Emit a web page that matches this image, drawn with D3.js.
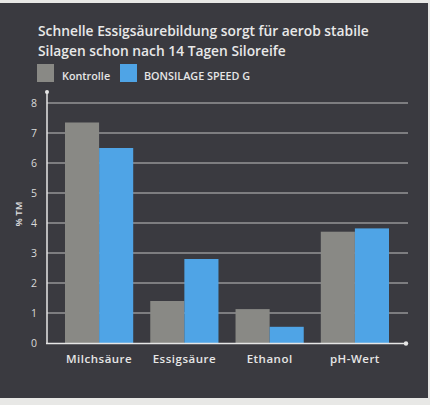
<!DOCTYPE html>
<html><head><meta charset="utf-8">
<script src="https://cdn.jsdelivr.net/npm/d3@7"></script>
<style>html,body{margin:0;padding:0;background:#e8e8e6;}svg{display:block;}</style>
</head><body>
<script>
const categories = ["Milchsäure", "Essigsäure", "Ethanol", "pH-Wert"];
const seriesNames = ["Kontrolle", "BONSILAGE SPEED G"];
const kontrolle = [7.35, 1.4, 1.13, 3.71];
const bonsilage = [6.5, 2.8, 0.54, 3.82];
const yTicks = [0, 1, 2, 3, 4, 5, 6, 7, 8];
const titleLines = ["Schnelle Essigsäurebildung sorgt für aerob stabile", "Silagen schon nach 14 Tagen Siloreife"];
const yLabel = "% TM";

const W = 430, H = 405;
const colors = ["#898985", "#4fa4e6"];
const svg = d3.select("body").append("svg").attr("width", W).attr("height", H);
svg.append("rect").attr("x", 0).attr("y", 3).attr("width", 428).attr("height", 395).attr("fill", "#3a3a40");

const font = "'Open Sans', 'DejaVu Sans', sans-serif";
const x0 = d3.scaleBand().domain(categories).range([65, 389]).paddingInner(0.2).paddingOuter(0);
const x1 = d3.scaleBand().domain(seriesNames).range([0, x0.bandwidth()]);
const y = d3.scaleLinear().domain([0, 8]).range([343, 103]);

// gridlines
svg.append("g").selectAll("line").data(yTicks.filter(t => t > 0)).join("line")
  .attr("x1", 47).attr("x2", 408).attr("y1", d => y(d)).attr("y2", d => y(d))
  .attr("stroke", "#d8d8d8").attr("stroke-width", 1.2).attr("opacity", 0.85);

// bars
const data = categories.map((c, i) => ({c, vals: [kontrolle[i], bonsilage[i]]}));
const g = svg.append("g").selectAll("g").data(data).join("g").attr("transform", d => `translate(${x0(d.c)},0)`);
g.selectAll("rect").data(d => d.vals.map((v, j) => ({v, s: seriesNames[j], j}))).join("rect")
  .attr("x", d => x1(d.s)).attr("width", x1.bandwidth())
  .attr("y", d => y(d.v)).attr("height", d => y(0) - y(d.v))
  .attr("fill", d => colors[d.j]);

// y axis
const yAxis = d3.axisLeft(y).tickValues(yTicks).tickSize(0).tickPadding(10).tickFormat(d3.format("d"));
const ya = svg.append("g").attr("transform", "translate(47,0)").call(yAxis);
ya.select(".domain").remove();
ya.selectAll("text").attr("fill", "#d9d9d9").attr("font-family", font).attr("font-size", 10.5);
svg.append("line").attr("x1", 47).attr("x2", 47).attr("y1", 92).attr("y2", 343)
  .attr("stroke", "#e6e6e6").attr("stroke-width", 1.5);
svg.append("circle").attr("cx", 47).attr("cy", 92).attr("r", 2).attr("fill", "#e6e6e6");

// x axis
const xAxis = d3.axisBottom(x0).tickSize(0).tickPadding(12);
const xa = svg.append("g").attr("transform", "translate(0,343)").call(xAxis);
xa.select(".domain").remove();
xa.selectAll("text").attr("fill", "#e6e6e6").attr("font-family", font).attr("font-size", 11.5)
  .attr("font-weight", 600).attr("letter-spacing", 0.5);
svg.append("line").attr("x1", 46).attr("x2", 406).attr("y1", 343.5).attr("y2", 343.5)
  .attr("stroke", "#e6e6e6").attr("stroke-width", 1.5);
svg.append("circle").attr("cx", 406).attr("cy", 343.5).attr("r", 2.2).attr("fill", "#e6e6e6");

// y label
svg.append("text").attr("transform", "translate(22,214) rotate(-90)").attr("text-anchor", "middle")
  .attr("fill", "#e0e0e0").attr("font-family", font).attr("font-size", 9.5).attr("font-weight", 600).text(yLabel);

// title
svg.append("g").selectAll("text").data(titleLines).join("text")
  .attr("x", 38).attr("y", (d, i) => 36 + i * 19.5)
  .attr("fill", "#e8e8e8").attr("font-family", font).attr("font-size", 13.8).attr("font-weight", 600)
  .text(d => d);

// legend
const legX = [37, 120];
const leg = svg.append("g").selectAll("g").data(seriesNames).join("g")
  .attr("transform", (d, i) => `translate(${legX[i]},64)`);
leg.append("rect").attr("width", 17).attr("height", 18).attr("fill", (d, i) => colors[i]);
leg.append("text").attr("x", (d, i) => i === 0 ? 25 : 24).attr("y", 15.5)
  .attr("fill", "#e6e6e6").attr("font-family", font).attr("font-size", 10.8).attr("font-weight", 600)
  .text(d => d);
</script>
</body></html>
